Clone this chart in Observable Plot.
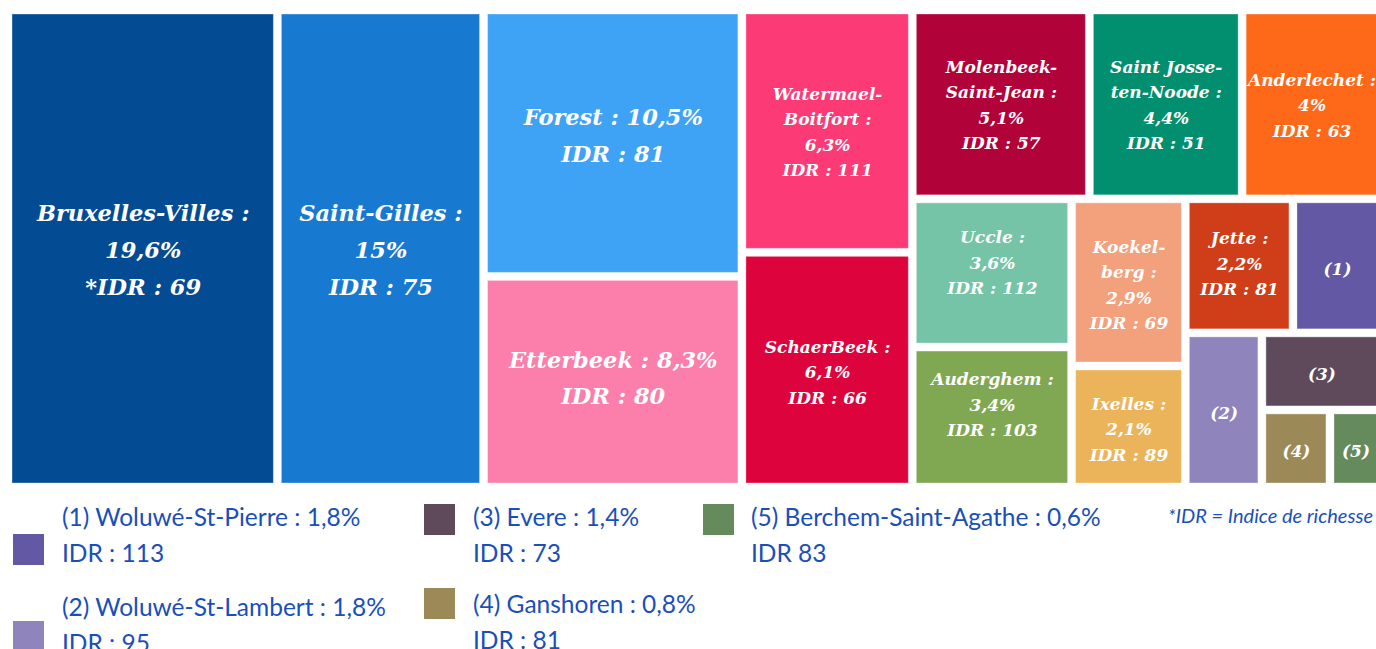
<!DOCTYPE html>
<html><head><meta charset="utf-8">
<script src="https://cdn.jsdelivr.net/npm/d3@7"></script>
<script src="https://cdn.jsdelivr.net/npm/@observablehq/plot@0.6"></script>
<style>
body{margin:0;background:#fff;}
#wrap{position:relative;width:1376px;height:649px;overflow:hidden;background:#fff;}
#chart{position:absolute;left:0;top:0;}
.sw{position:absolute;width:31px;height:31px;}
.lt{position:absolute;font-family:Lato,"Noto Sans",sans-serif;font-size:24.5px;line-height:36px;color:#1a4fba;white-space:nowrap;}
.note{position:absolute;right:3px;top:503px;font-family:Lato,"Noto Sans",sans-serif;font-style:italic;font-size:20px;color:#1a4fba;white-space:nowrap;}
</style></head><body><div id="wrap"><div id="chart"></div><div id="legend"></div></div>
<script>
const communes = ["Bruxelles-Villes", "Saint-Gilles", "Forest", "Etterbeek", "Watermael-Boitfort", "SchaerBeek", "Molenbeek-Saint-Jean", "Saint Josse-ten-Noode", "Anderlechet", "Uccle", "Auderghem", "Koekelberg", "Ixelles", "Jette", "Woluwé-St-Pierre", "Woluwé-St-Lambert", "Evere", "Ganshoren", "Berchem-Saint-Agathe"];
const shares = [19.6, 15, 10.5, 8.3, 6.3, 6.1, 5.1, 4.4, 4, 3.6, 3.4, 2.9, 2.1, 2.2, 1.8, 1.8, 1.4, 0.8, 0.6];
const idr = [69, 75, 81, 80, 111, 66, 57, 51, 63, 112, 103, 69, 89, 81, 113, 95, 73, 81, 83];
const tileLabels = [
  "Bruxelles-Villes :\n19,6%\n*IDR : 69",
  "Saint-Gilles :\n15%\nIDR : 75",
  "Forest : 10,5%\nIDR : 81",
  "Etterbeek : 8,3%\nIDR : 80",
  "Watermael-\nBoitfort :\n6,3%\nIDR : 111",
  "SchaerBeek :\n6,1%\nIDR : 66",
  "Molenbeek-\nSaint-Jean :\n5,1%\nIDR : 57",
  "Saint Josse-\nten-Noode :\n4,4%\nIDR : 51",
  "Anderlechet :\n4%\nIDR : 63",
  "Uccle :\n3,6%\nIDR : 112",
  "Auderghem :\n3,4%\nIDR : 103",
  "Koekel-\nberg :\n2,9%\nIDR : 69",
  "Ixelles :\n2,1%\nIDR : 89",
  "Jette :\n2,2%\nIDR : 81",
  "(1)", "(2)", "(3)", "(4)", "(5)"
];
const colors = ["#034b93", "#1779d0", "#3fa3f5", "#fb7eab", "#fc3a75", "#dd033c", "#b10239", "#028f6f", "#fd6918", "#75c4a8", "#80a852", "#f3a07d", "#ecb45a", "#d03d19", "#6358a3", "#9084bd", "#5e4a5b", "#9b8a58", "#658a5b"];
// nesting of the tiles (slice / dice alternating by depth)
const groups = ["", "", "A", "A", "B", "B", "C/C1", "C/C1", "C/C1", "C/C2/U", "C/C2/U", "C/C2/K", "C/C2/K", "C/C2/D/D1", "C/C2/D/D1", "C/C2/D/D2", "C/C2/D/D2/E", "C/C2/D/D2/E/F", "C/C2/D/D2/E/F"];
const legendIdr = ["IDR : 113", "IDR : 95", "IDR : 73", "IDR : 81", "IDR 83"];
const footnote = "*IDR = Indice de richesse";

// build hierarchy
const rootData = {name: "root", children: []};
communes.forEach((name, i) => {
  let node = rootData;
  for (const g of (groups[i] ? groups[i].split("/") : [])) {
    let c = node.children.find(d => d.name === g && d.children);
    if (!c) { c = {name: g, children: []}; node.children.push(c); }
    node = c;
  }
  node.children.push({name, i, value: shares[i]});
});
const W = 1373, H = 477, OX = 8, OY = 10, PAD = 4;
// small vertical nudges of some labels (layout only)
const nudge = {0: -3, 1: -3, 2: -12, 3: -8, 9: -13, 10: -15, 13: -5, 4: -2, 6: -2, 7: -2, 8: -2};
const root = d3.hierarchy(rootData).sum(d => d.value);
d3.treemap().tile(d3.treemapSliceDice).size([W, H]).round(false)(root);
const tiles = root.leaves().map(l => {
  const i = l.data.i;
  return {
    i, name: l.data.name, color: colors[i], label: tileLabels[i],
    x1: OX + l.x0 + PAD, x2: OX + l.x1 - PAD, y1: OY + l.y0 + PAD, y2: OY + l.y1 - PAD,
    cx: OX + (l.x0 + l.x1) / 2, cy: OY + (l.y0 + l.y1) / 2 + (nudge[i] || 0),
    big: i < 4
  };
});

const font = "'DejaVu Serif', serif";
const chart = Plot.plot({
  width: 1376, height: 490, margin: 0,
  x: {domain: [0, 1376], range: [0, 1376], axis: null},
  y: {domain: [0, 490], range: [0, 490], axis: null},
  color: {type: "identity"},
  style: {background: "white", overflow: "hidden"},
  marks: [
    Plot.rect(tiles, {x1: "x1", x2: "x2", y1: "y1", y2: "y2", fill: "color", stroke: "white", strokeOpacity: 0.35, strokeWidth: 1}),
    Plot.text(tiles.filter(d => d.big), {x: "cx", y: "cy", text: "label", fill: "white", fontSize: 22.5, lineHeight: 1.64, lineAnchor: "middle", fontFamily: font, fontWeight: "bold", fontStyle: "italic"}),
    Plot.text(tiles.filter(d => !d.big), {x: "cx", y: "cy", text: "label", fill: "white", fontSize: 17, lineHeight: 1.5, lineAnchor: "middle", fontFamily: font, fontWeight: "bold", fontStyle: "italic"})
  ]
});
document.getElementById("chart").append(chart);

// legend for the small tiles
const legendPos = [
  {sx: 13, sy: 534, tx: 62, ty: 499},
  {sx: 13, sy: 621, tx: 62, ty: 589},
  {sx: 424, sy: 504, tx: 473, ty: 499},
  {sx: 424, sy: 588, tx: 473, ty: 586},
  {sx: 703, sy: 504, tx: 751, ty: 499}
];
const legend = d3.select("#legend");
legendPos.forEach((p, k) => {
  const i = 14 + k;
  legend.append("div").attr("class", "sw").style("left", p.sx + "px").style("top", p.sy + "px").style("background", colors[i]);
  const t = legend.append("div").attr("class", "lt").style("left", p.tx + "px").style("top", p.ty + "px");
  t.append("div").text(`(${k + 1}) ${communes[i]} : ${String(shares[i]).replace(".", ",")}%`);
  t.append("div").text(legendIdr[k]);
});
legend.append("div").attr("class", "note").text(footnote);
</script></body></html>
